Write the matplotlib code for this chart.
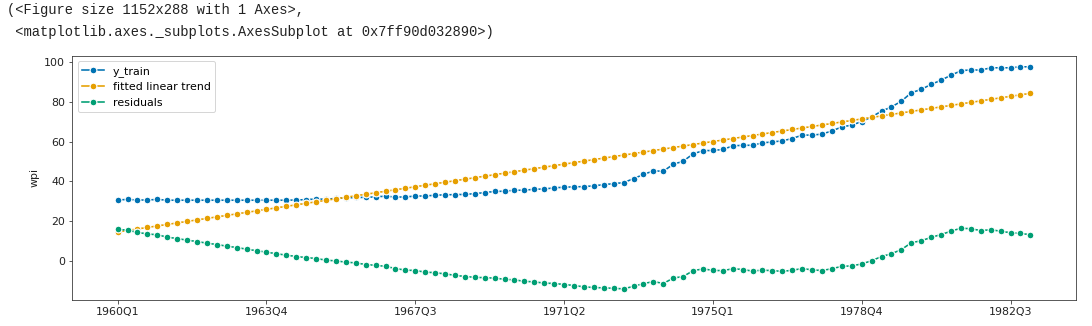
import matplotlib
matplotlib.use("Agg")
import matplotlib.pyplot as plt
import numpy as np
import pandas as pd

# Quarterly wholesale price index, training window 1960Q1 - 1983Q1
start_quarter = "1960Q1"
y_train = [
    30.7, 31.0, 30.7, 30.7, 31.0, 30.6, 30.6, 30.6, 30.6, 30.6,
    30.6, 30.6, 30.6, 30.6, 30.6, 30.6, 30.6, 30.6, 30.7, 30.9,
    31.2, 31.1, 31.5, 31.7, 32.0, 32.0, 32.3, 32.6, 32.2, 32.2,
    32.7, 32.7, 33.1, 33.3, 33.4, 33.5, 33.9, 34.4, 35.0, 35.1,
    35.6, 35.6, 36.1, 36.2, 36.8, 37.1, 37.3, 37.4, 37.8, 38.4,
    38.9, 39.4, 41.4, 43.5, 45.3, 45.1, 48.6, 50.1, 53.8, 55.4,
    55.5, 56.0, 57.8, 58.1, 58.1, 59.3, 59.8, 60.3, 61.5, 63.2,
    63.2, 63.7, 65.3, 67.3, 68.2, 70.0, 72.3, 75.2, 77.3, 80.2,
    84.4, 86.1, 88.6, 90.7, 93.2, 95.4, 95.9, 95.7, 96.9, 96.9,
    96.9, 97.4, 97.4,
]
fitted_trend = [
    14.70, 15.45, 16.21, 16.96, 17.72, 18.47, 19.23, 19.98, 20.74, 21.49,
    22.25, 23.00, 23.75, 24.51, 25.26, 26.02, 26.77, 27.53, 28.28, 29.04,
    29.79, 30.54, 31.30, 32.05, 32.81, 33.56, 34.32, 35.07, 35.83, 36.58,
    37.34, 38.09, 38.84, 39.60, 40.35, 41.11, 41.86, 42.62, 43.37, 44.13,
    44.88, 45.63, 46.39, 47.14, 47.90, 48.65, 49.41, 50.16, 50.92, 51.67,
    52.43, 53.18, 53.93, 54.69, 55.44, 56.20, 56.95, 57.71, 58.46, 59.22,
    59.97, 60.72, 61.48, 62.23, 62.99, 63.74, 64.50, 65.25, 66.01, 66.76,
    67.52, 68.27, 69.02, 69.78, 70.53, 71.29, 72.04, 72.80, 73.55, 74.31,
    75.06, 75.81, 76.57, 77.32, 78.08, 78.83, 79.59, 80.34, 81.10, 81.85,
    82.61, 83.36, 84.11,
]
residuals = [
    16.0, 15.6, 14.5, 13.7, 13.3, 12.1, 11.4, 10.6, 9.9, 9.1,
    8.4, 7.6, 6.9, 6.1, 5.3, 4.6, 3.8, 3.1, 2.4, 1.9,
    1.4, 0.6, 0.2, -0.4, -0.8, -1.6, -2.0, -2.5, -3.6, -4.4,
    -4.6, -5.4, -5.7, -6.3, -7.0, -7.6, -8.0, -8.2, -8.4, -9.0,
    -9.3, -10.0, -10.3, -10.9, -11.1, -11.6, -12.1, -12.8, -13.1, -13.3,
    -13.5, -13.8, -12.5, -11.2, -10.1, -11.1, -8.4, -7.6, -4.7, -3.8,
    -4.5, -4.7, -3.7, -4.1, -4.9, -4.4, -4.7, -5.0, -4.5, -3.6,
    -4.3, -4.6, -3.7, -2.5, -2.3, -1.3, 0.3, 2.4, 3.8, 5.9,
    9.3, 10.3, 12.0, 13.4, 15.1, 16.6, 16.3, 15.4, 15.8, 15.1,
    14.3, 14.0, 13.3,
]
series_labels = ["y_train", "fitted linear trend", "residuals"]
tick_labels = ["1960Q1", "1963Q4", "1967Q3", "1971Q2", "1975Q1", "1978Q4", "1982Q3"]

colors = ["#0072B2", "#E69F00", "#009E73"]

quarters = [str(p) for p in pd.period_range(start_quarter, periods=len(y_train), freq="Q")]
x = np.arange(len(quarters))

fig = plt.figure(figsize=(1092 / 72, 326 / 72), dpi=72)
ax = fig.add_axes([72 / 1092, 26 / 326, (1076 - 72) / 1092, (300 - 55.7) / 326])

for values, label, color in zip([y_train, fitted_trend, residuals], series_labels, colors):
    ax.plot(x, values, marker="o", color=color, label=label, lw=1.6,
            ms=6.8, mec="w", mew=1.2)

ax.set_xticks([quarters.index(t) for t in tick_labels])
ax.set_xticklabels(tick_labels)
ax.tick_params(labelsize=11, colors="#333333", labelcolor="#222222")
for spine in ax.spines.values():
    spine.set_color("#333333")
ax.set_ylabel("wpi", fontsize=11, color="#222222")
ax.legend(loc="upper left", fontsize=11)

# notebook output echo above the figure
fig.text(7 / 1092, 1 - 14 / 326, "(<Figure size 1152x288 with 1 Axes>,",
         family="Liberation Mono", fontsize=13.8, va="baseline", color="#222222")
fig.text(7 / 1092, 1 - 36 / 326, " <matplotlib.axes._subplots.AxesSubplot at 0x7ff90d032890>)",
         family="Liberation Mono", fontsize=13.8, va="baseline", color="#222222")

fig.savefig("out.png", dpi=72)
